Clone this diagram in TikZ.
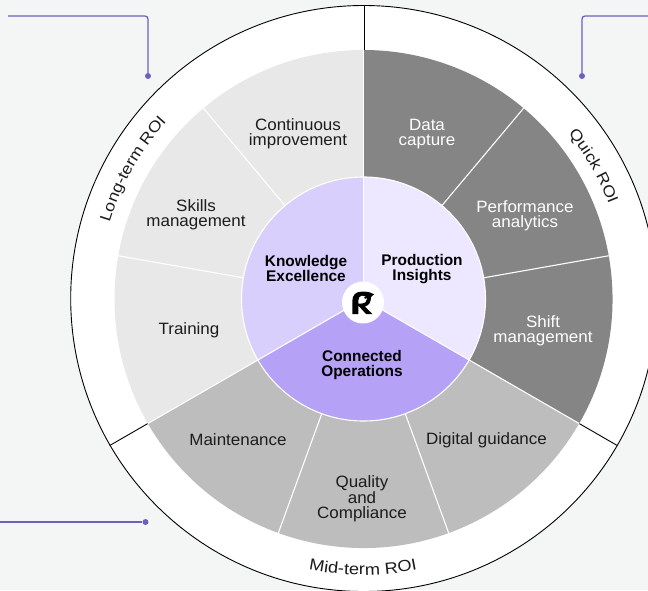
\documentclass[tikz,border=0pt]{standalone}
\usepackage{fontspec}
\setmainfont{Liberation Sans}
\newfontfamily\bandfont[FakeStretch=1.14]{Liberation Sans}
\newfontfamily\labelfont[FakeStretch=1.035]{Liberation Sans}
\usetikzlibrary{decorations.text}
\definecolor{pagebg}{HTML}{F4F6F6}
\definecolor{gdark}{HTML}{858585}
\definecolor{gmid}{HTML}{BDBDBD}
\definecolor{glight}{HTML}{E8E8E8}
\definecolor{lav}{HTML}{EDE8FF}
\definecolor{lavmid}{HTML}{D9CFFC}
\definecolor{lavdark}{HTML}{B5A1F5}
\definecolor{leader}{HTML}{6E60BC}
\definecolor{inktext}{HTML}{1C1C1C}
\tikzset{
  x=1pt,y=-1pt,
  lbl/.style={align=center,font=\labelfont\fontsize{16.4}{15}\selectfont,text=inktext,inner sep=0pt},
  lblw/.style={lbl,text=white},
  lblb/.style={align=center,font=\fontsize{15.4}{15}\selectfont\bfseries,text=black,inner sep=0pt},
  seg/.style={draw=white,line width=1.1pt,line join=miter},
  rule/.style={draw=black,line width=0.9pt},
  leaderline/.style={draw=leader,line width=1.3pt,rounded corners=3pt},
  dot/.style={circle,fill=leader,inner sep=0pt,minimum size=6pt}
}
\newcommand{\wedgeseg}[4]{% radius, from, to, colour
  \fill[#4] (363.5,299) -- ++({#1*cos(#2)},{-#1*sin(#2)})
    arc[start angle=-#2,end angle=-#3,radius=#1] -- cycle;}
\begin{document}
\begin{tikzpicture}
\useasboundingbox (0,0) rectangle (648,590);
\fill[pagebg] (0,0) rectangle (648,590);
\begin{scope}
\clip (0,0) rectangle (648,590);
\fill[white,draw=black,line width=0.9pt] (363.7,298.5) circle[radius=293];
\end{scope}
% outer band rules
\draw[rule] (364,5.5) -- (364,50);
\draw[rule] ({363.5+249*cos(-30)},{299+249*sin(30)}) -- ({363.5+293*cos(-30)},{299+293*sin(30)});
\draw[rule] ({363.5-249*cos(-30)},{299+249*sin(30)}) -- ({363.5-293*cos(-30)},{299+293*sin(30)});
% grey wheel
\wedgeseg{249}{-30}{90}{gdark}
\wedgeseg{249}{-150}{-30}{gmid}
\wedgeseg{249}{90}{210}{glight}
\foreach \a in {50,10,-70,-110,170,130,90,-30,-150}
  {\draw[seg] (363.5,299) -- ({363.5+249*cos(\a)},{299-249*sin(\a)});}
% inner disc
\wedgeseg{122}{-30}{90}{lav}
\wedgeseg{122}{90}{210}{lavmid}
\wedgeseg{122}{-150}{-30}{lavdark}
\draw[white,line width=1.1pt] (363.5,299) circle[radius=122];
\foreach \a in {90,-30,210}
  {\draw[seg] (363.5,299) -- ({363.5+122*cos(\a)},{299-122*sin(\a)});}
% logo
\fill[white] (363,302.5) circle[radius=21];
\fill[black,even odd rule]
  (352.3,314) -- (352.3,301) .. controls (352.3,295) and (356,291.7) .. (361,291.7)
  -- (366,291.7) .. controls (369,291.7) and (371,292.8) .. (374,294.3) -- (371,297)
  .. controls (371,302) and (369,305.5) .. (365,306.5) -- (372.5,314) -- (366,314)
  -- (358.3,305.5) -- (358.3,314) -- cycle
  (358.3,300.5) .. controls (358.3,297.5) and (360,295.6) .. (362,295.6)
  .. controls (365,295.6) and (367,296.5) .. (367,299)
  .. controls (367,301.5) and (365,303.5) .. (361.5,303.5) -- (358.3,303.5) -- cycle
  (365.2,297.8) circle[radius=1.1];
% texts
\node[lblw] (t1) at (427,134) {Data\\capture};
\node[lblw] (t2) at (525,216) {Performance\\analytics};
\node[lblw] (t3) at (543,331) {Shift\\management};
\node[lbl] (t4) at (486.5,440) {Digital guidance};
\node[lbl] (t5) at (362,498.5) {Quality\\and\\Compliance};
\node[lbl] (t6) at (238,440) {Maintenance};
\node[lbl] (t7) at (189,330) {Training};
\node[lbl] (t8) at (196,215) {Skills\\management};
\node[lbl] (t9) at (298,134) {Continuous\\improvement};
\node[lblb] (c1) at (422,269) {Production\\Insights};
\node[lblb] (c2) at (306,268) {Knowledge\\Excellence};
\node[lblb] (c3) at (362,365) {Connected\\Operations};
% curved band labels
\path[postaction={decorate,decoration={text along path,text align=center,
  text={|\bandfont\fontsize{15.5}{16}\selectfont\color{inktext}|Long-term ROI}}}]
  ({363.5+265*cos(180.6)},{299-265*sin(180.6)}) arc[start angle=-180.6,end angle=-120.6,radius=265];
\path[postaction={decorate,decoration={text along path,text align=center,
  text={|\bandfont\fontsize{15.5}{16}\selectfont\color{inktext}|Quick ROI}}}]
  ({363.5+263*cos(60)},{299-263*sin(60)}) arc[start angle=-60,end angle=0,radius=263];
\path[postaction={decorate,decoration={text along path,text align=center,
  text={|\bandfont\fontsize{16}{16}\selectfont\color{inktext}|Mid-term ROI}}}]
  ({363+276*cos(-120)},{299-276*sin(-120)}) arc[start angle=120,end angle=60,radius=276];
% leaders
\coordinate (l1a) at (8,16);
\coordinate (l1b) at (148,16);
\node[dot] (l1c) at (148,76) {};
\draw[leaderline] (l1a) -- (l1b) -- (l1c);
\coordinate (l2a) at (648,16);
\coordinate (l2b) at (582,16);
\node[dot] (l2c) at (582,76) {};
\draw[leaderline] (l2a) -- (l2b) -- (l2c);
\coordinate (l3a) at (0,522);
\node[dot] (l3c) at (145.5,522) {};
\draw[leaderline] (l3a) -- (l3c);
\end{tikzpicture}
\end{document}
